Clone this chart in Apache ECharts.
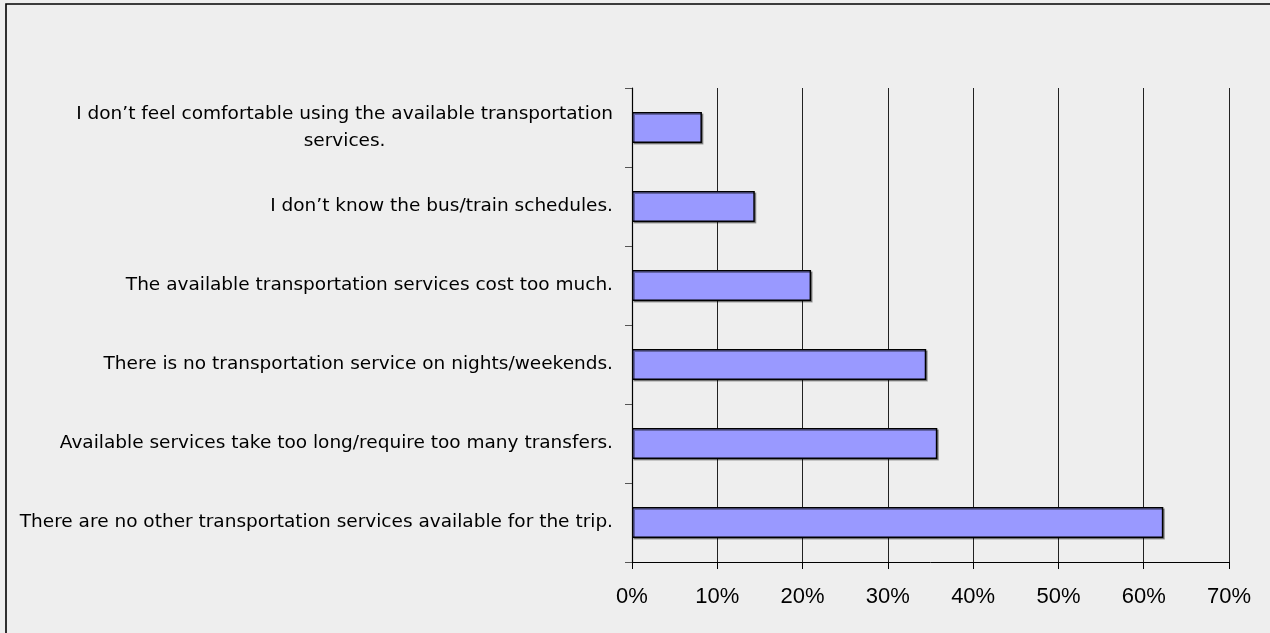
<!DOCTYPE html>
<html>
<head>
<meta charset="utf-8">
<script src="https://cdn.jsdelivr.net/npm/echarts@6/dist/echarts.min.js"></script>
<style>
  html, body { margin: 0; padding: 0; background: #eeeeee; }
  #chart { width: 1270px; height: 633px; }
</style>
</head>
<body>
<div id="chart"></div>
<script>
// Reasons given for not using available transportation (top to bottom)
const categories = [
  'I don\u2019t feel comfortable using the available transportation\nservices.',
  'I don\u2019t know the bus/train schedules.',
  'The available transportation services cost too much.',
  'There is no transportation service on nights/weekends.',
  'Available services take too long/require too many transfers.',
  'There are no other transportation services available for the trip.'
];
const shares = [8.2, 14.4, 21.0, 34.5, 35.8, 62.3];
const tickValues = [0, 10, 20, 30, 40, 50, 60, 70];

const chart = echarts.init(document.getElementById('chart'), null, { renderer: 'canvas' });

chart.setOption({
  backgroundColor: '#eeeeee',
  animation: false,
  graphic: [{
    type: 'rect',
    shape: { x: 6, y: 4, width: 1300, height: 700 },
    style: { fill: 'none', stroke: '#000', lineWidth: 1.6 },
    silent: true
  }],
  grid: { left: 632, right: 41, top: 88, bottom: 71, containLabel: false },
  xAxis: {
    type: 'value',
    min: tickValues[0],
    max: tickValues[tickValues.length - 1],
    interval: 10,
    axisLine: { show: true, lineStyle: { color: '#000', width: 1 } },
    axisTick: { show: true, length: 7, lineStyle: { color: '#000' } },
    axisLabel: {
      margin: 24,
      formatter: v => v + '%',
      fontFamily: 'Liberation Sans, Arial, sans-serif',
      fontSize: 22,
      color: '#000'
    },
    splitLine: { show: true, lineStyle: { color: '#222', width: 1 } }
  },
  yAxis: {
    type: 'category',
    inverse: true,
    data: categories,
    axisLine: { show: true, lineStyle: { color: '#000', width: 1.2 } },
    axisTick: { show: true, length: 7, lineStyle: { color: '#555' } },
    axisLabel: {
      margin: 19,
      fontFamily: 'DejaVu Sans, sans-serif',
      fontSize: 18.5,
      color: '#000',
      lineHeight: 27,
      formatter: v => v.split('\n').map(s => '{c|' + s + '}').join('\n'),
      rich: {
        c: {
          align: 'center',
          fontFamily: 'DejaVu Sans, sans-serif',
          fontSize: 18.5,
          lineHeight: 27,
          color: '#000'
        }
      }
    },
    splitLine: { show: false }
  },
  series: [{
    type: 'bar',
    data: shares,
    barWidth: 31,
    itemStyle: {
      color: '#9999ff',
      borderColor: '#000',
      borderWidth: 1.5,
      shadowColor: 'rgba(0,0,0,0.35)',
      shadowOffsetX: 1.5,
      shadowOffsetY: 1.5,
      shadowBlur: 0
    },
    emphasis: { disabled: true }
  }]
});
</script>
</body>
</html>
